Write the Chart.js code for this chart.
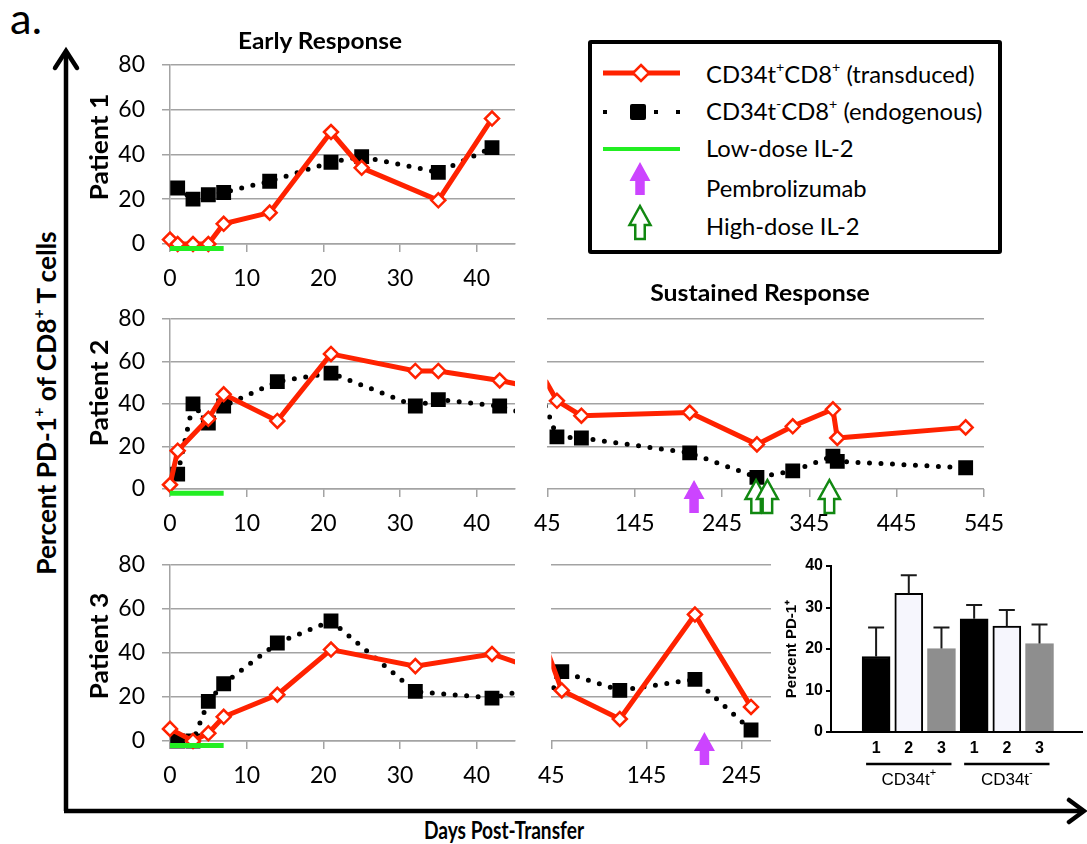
<!DOCTYPE html>
<html>
<head>
<meta charset="utf-8">
<script src="https://cdn.jsdelivr.net/npm/chart.js@4.4.1/dist/chart.umd.min.js"></script>
<style>
  body { margin: 0; background: #fff; }
  #fig { position: relative; width: 1087px; height: 844px; overflow: hidden; font-family: Lato, "Open Sans", sans-serif; color: #000; }
  canvas { position: absolute; }
  .lbl { position: absolute; white-space: nowrap; line-height: 1; }
  .bold { font-weight: bold; }
  .ctr { transform: translate(-50%, -50%); }
  .rot { transform: translate(-50%, -50%) rotate(-90deg); }
  sup { font-size: 0.6em; line-height: 0; position: relative; top: -0.15em; vertical-align: super; }
  #legend { position: absolute; left: 588px; top: 40px; width: 414px; height: 214px; border: 4px solid #000; border-radius: 3px; box-sizing: border-box; background: #fff; }
  .leg-text { position: absolute; left: 114px; font-size: 22px; line-height: 1; white-space: nowrap; transform: translateY(-50%); }
</style>
</head>
<body>
<div id="fig">
  <svg width="1087" height="844" style="position:absolute;left:0;top:0">
    <path d="M66 811 V52" stroke="#000" stroke-width="4.5" fill="none"/>
    <path d="M55 68 L66 51 L77 68" stroke="#000" stroke-width="4.5" fill="none" stroke-linecap="round"/>
    <path d="M64 811 H1081" stroke="#000" stroke-width="4.5" fill="none"/>
    <path d="M1069 800 L1084 811 L1069 822" stroke="#000" stroke-width="4.5" fill="none" stroke-linecap="round"/>
  </svg>

  <canvas id="p1e" width="423" height="260" style="left:100px;top:34px"></canvas>
  <canvas id="p2e" width="423" height="251" style="left:100px;top:288px"></canvas>
  <canvas id="p3e" width="423" height="257" style="left:100px;top:534px"></canvas>
  <canvas id="p2l" width="496" height="234" style="left:521px;top:305px"></canvas>
  <canvas id="p3l" width="271" height="240" style="left:525px;top:551px"></canvas>
  <canvas id="bars" width="317" height="240" style="left:770px;top:552px"></canvas>

  <div class="lbl ctr" id="tA" style="left:26px;top:18px;font-size:42px">a.</div>
  <div class="lbl ctr bold" id="tEarly" style="left:320px;top:41px">Early Response</div>
  <div class="lbl ctr bold" id="tLate" style="left:760px;top:293px">Sustained Response</div>
  <div class="lbl rot bold pat" style="left:98px;top:147px">Patient 1</div>
  <div class="lbl rot bold pat" style="left:98px;top:393px">Patient 2</div>
  <div class="lbl rot bold pat" style="left:98px;top:646px">Patient 3</div>
  <div class="lbl rot bold" id="tY" style="left:46px;top:403px">Percent PD-1<sup>+</sup> of CD8<sup>+</sup> T cells</div>
  <div class="lbl ctr bold" id="tX" style="left:504px;top:829px">Days Post-Transfer</div>

  <div id="legend">
    <svg width="406" height="206" style="position:absolute;left:0;top:0">
      <line x1="11" y1="29" x2="88" y2="29" stroke="#ff2200" stroke-width="5"/>
      <polygon points="49,21 57,29 49,37 41,29" fill="#fff" stroke="#ff2200" stroke-width="2.5"/>
      <rect x="11" y="66" width="4" height="4" fill="#000"/>
      <rect x="38" y="60" width="16" height="16" rx="2" fill="#000"/>
      <rect x="62" y="66" width="4" height="4" fill="#000"/>
      <rect x="84" y="66" width="4" height="4" fill="#000"/>
      <line x1="11" y1="105" x2="88" y2="105" stroke="#22ee22" stroke-width="4"/>
      <path d="M48 118 L58.5 137 L52.75 137 L52.75 151 L43.25 151 L43.25 137 L37.5 137 Z" fill="#cc44ff"/>
      <path d="M48 162 L58.5 181 L52.75 181 L52.75 195 L43.25 195 L43.25 181 L37.5 181 Z" fill="#fff" stroke="#118811" stroke-width="2.5"/>
    </svg>
    <div class="leg-text" id="leg0" style="top:31px">CD34t<sup>+</sup>CD8<sup>+</sup> (transduced)</div>
    <div class="leg-text" style="top:68px">CD34t<sup>-</sup>CD8<sup>+</sup> (endogenous)</div>
    <div class="leg-text" style="top:105px">Low-dose IL-2</div>
    <div class="leg-text" style="top:145px">Pembrolizumab</div>
    <div class="leg-text" style="top:183px">High-dose IL-2</div>
  </div>
</div>

<script>
// ---- tick labels ----
const earlyTicks = [0, 10, 20, 30, 40];
const p2LateTicks = [45, 145, 245, 345, 445, 545];
const p3LateTicks = [45, 145, 245];
const pctTicks = [0, 20, 40, 60, 80];

// low-dose IL-2 window (days), same for every patient
const il2Days = [0, 7];

// Patient 1
const p1TransDays = [0, 1, 3, 5, 7, 13, 21, 25, 35, 42];
const p1Trans = [2, 0, 0, 0, 9, 14, 50, 34, 19.5, 56];
const p1EndoDays = [1, 3, 5, 7, 13, 21, 25, 35, 42];
const p1Endo = [25, 20, 22, 23, 28, 36.5, 39, 32, 43];

// Patient 2
const p2TransDays = [0, 1, 5, 7, 14, 21, 32, 35, 43, 56, 84, 208, 285, 326, 372, 377, 524];
const p2Trans = [2, 18, 33, 44.5, 32, 63.5, 55.5, 55.5, 51, 41.5, 34.5, 36, 21, 29.5, 37.5, 24, 29];
const p2EndoDays = [1, 3, 5, 7, 14, 21, 32, 35, 43, 56, 84, 208, 285, 326, 372, 377, 524];
const p2Endo = [7, 40, 31, 39, 50.5, 54.5, 39, 42, 39, 24.5, 24, 17, 5.5, 8.5, 15.5, 13, 10];
const p2PembroDays = [213];
const p2HighDoseDays = [284, 297, 368];

// Patient 3
const p3TransDays = [0, 3, 5, 7, 14, 21, 32, 42, 56, 117, 196, 255];
const p3Trans = [5.5, 0, 3.5, 11, 21, 41.5, 34, 39.5, 23, 10, 57.5, 15.5];
const p3EndoDays = [1, 3, 5, 7, 14, 21, 32, 42, 56, 117, 196, 255];
const p3Endo = [0, 0, 18, 26, 44.5, 54.5, 22.5, 19.5, 31.5, 23, 28, 5];
const p3PembroDays = [206];

// inset bar chart
const barGroups = ['CD34t+', 'CD34t-'];
const barPatients = ['1', '2', '3', '1', '2', '3'];
const barMeans = [18.2, 33.4, 20.1, 27.3, 25.5, 21.3];
const barSem = [7.0, 4.4, 5.1, 3.3, 3.9, 4.6];
const barTicks = [0, 10, 20, 30, 40];

const FONT = 'Lato, "Open Sans", sans-serif';
const ARIAL = '"Liberation Sans", Arial, sans-serif';
const RED = '#ff2200';
const GRID = '#a3a3a3';

// size html labels from the cap height, then squeeze to the measured length
function fitBox(el, length, capH) {
  el.style.fontSize = (capH / 0.72).toFixed(2) + 'px';
  const k = length / el.offsetWidth;
  const rot = el.classList.contains('rot') ? ' rotate(-90deg)' : '';
  el.style.transform = 'translate(-50%, -50%)' + rot + ' scaleX(' + k.toFixed(3) + ')';
}
function fitWidth(el, target) {
  const base = parseFloat(getComputedStyle(el).fontSize);
  el.style.fontSize = (base * target / el.offsetWidth).toFixed(2) + 'px';
}
fitWidth(document.getElementById('tA'), 32);
fitBox(document.getElementById('tEarly'), 164, 16);
fitBox(document.getElementById('tLate'), 220, 16);
document.querySelectorAll('.pat').forEach(el => fitBox(el, 107, 18));
fitBox(document.getElementById('tY'), 343, 19);
fitBox(document.getElementById('tX'), 160, 18);
const leg0 = document.getElementById('leg0');
fitWidth(leg0, 269);
document.querySelectorAll('.leg-text').forEach(el => { el.style.fontSize = leg0.style.fontSize; });

function pts(days, vals) {
  return days.map((d, i) => ({ x: d, y: vals[i] }));
}

// hide markers that fall outside the panel's day range
function inView(c) {
  const s = c.chart.scales.x;
  return c.raw && c.raw.x >= s.min && c.raw.x <= s.max;
}

function seriesSets(transDays, trans, endoDays, endo, clip, withIl2) {
  const sets = [
    {
      data: pts(transDays, trans), borderColor: RED, borderWidth: 5,
      pointStyle: 'rectRot', pointRadius: c => inView(c) ? 7 : 0,
      pointBackgroundColor: '#fff', pointBorderColor: RED, pointBorderWidth: 2.5,
      order: 0, clip: clip
    },
    {
      data: pts(endoDays, endo), borderColor: '#000', borderWidth: 5,
      borderDash: [0, 11.5], borderCapStyle: 'round',
      pointStyle: 'rect', pointRadius: c => inView(c) ? 10.5 : 0,
      pointBackgroundColor: '#000', pointBorderWidth: 0,
      order: 1, clip: clip
    }
  ];
  if (withIl2) {
    sets.push({
      data: il2Days.map(d => ({ x: d, y: -2 })), borderColor: '#22ee22', borderWidth: 5,
      pointRadius: 0, clip: false, order: -1
    });
  }
  return sets;
}

function arrowPath(ctx, cx, ty) {
  const w = 10.5, h = 19, s = 4.75, H = 33;
  ctx.beginPath();
  ctx.moveTo(cx, ty);
  ctx.lineTo(cx + w, ty + h);
  ctx.lineTo(cx + s, ty + h);
  ctx.lineTo(cx + s, ty + H);
  ctx.lineTo(cx - s, ty + H);
  ctx.lineTo(cx - s, ty + h);
  ctx.lineTo(cx - w, ty + h);
  ctx.closePath();
}

// Pembrolizumab / high-dose IL-2 markers under the day axis
const doseArrows = {
  id: 'doseArrows',
  afterDraw(chart, args, opts) {
    const { ctx, scales: { x, y } } = chart;
    const top = y.getPixelForValue(0) - 9;
    ctx.save();
    (opts.pembro || []).forEach(d => {
      arrowPath(ctx, x.getPixelForValue(d), top);
      ctx.fillStyle = '#cc44ff';
      ctx.fill();
    });
    (opts.highDose || []).forEach(d => {
      arrowPath(ctx, x.getPixelForValue(d), top);
      ctx.fillStyle = '#fff';
      ctx.fill();
      ctx.lineWidth = 2.5;
      ctx.strokeStyle = '#118811';
      ctx.stroke();
    });
    ctx.restore();
  }
};

function baseOptions() {
  return {
    responsive: false, animation: false, events: [], devicePixelRatio: 1,
    plugins: { legend: { display: false }, tooltip: { enabled: false } }
  };
}

// chart top sits at half a label height + tick padding below the canvas top
function earlyChart(id, sets) {
  const opts = baseOptions();
  opts.layout = { padding: { top: 0, right: 8, left: 0, bottom: 0 } };
  opts.scales = {
    x: {
      type: 'linear', min: 0, max: 45,
      afterBuildTicks: s => { s.ticks = earlyTicks.map(v => ({ value: v })); },
      afterFit: s => { s.height = 50; },
      grid: { drawOnChartArea: false, tickLength: 8, color: GRID, lineWidth: 1.5 },
      border: { display: true, color: GRID, width: 1.5 },
      ticks: { font: { family: FONT, size: 23 }, color: '#000', padding: 13, maxRotation: 0 }
    },
    y: {
      min: 0, max: 80,
      afterBuildTicks: s => { s.ticks = pctTicks.map(v => ({ value: v })); },
      afterFit: s => { s.width = 70; },
      grid: { tickLength: 8, color: GRID, lineWidth: 1.5 },
      border: { display: true, color: GRID, width: 1.5 },
      ticks: { font: { family: FONT, size: 23 }, color: '#000', padding: 17 }
    }
  };
  return new Chart(document.getElementById(id), { type: 'line', data: { datasets: sets }, options: opts });
}

function lateChart(id, sets, maxDay, ticks, arrows) {
  const opts = baseOptions();
  opts.layout = { padding: { top: 14, right: 25, left: 20, bottom: 0 } };
  opts.plugins.doseArrows = arrows;
  opts.scales = {
    x: {
      type: 'linear', min: 45, max: maxDay,
      afterBuildTicks: s => { s.ticks = ticks.map(v => ({ value: v })); },
      afterFit: s => { s.height = 50; },
      grid: { drawOnChartArea: false, tickLength: 8, color: GRID, lineWidth: 1.5 },
      border: { display: false },
      ticks: { font: { family: FONT, size: 23 }, color: '#000', padding: 13, maxRotation: 0 }
    },
    y: {
      min: 0, max: 80,
      afterBuildTicks: s => { s.ticks = pctTicks.map(v => ({ value: v })); },
      afterFit: s => { s.width = 0; },
      grid: { drawTicks: false, color: GRID, lineWidth: 1.5 },
      border: { display: false },
      ticks: { display: false }
    }
  };
  return new Chart(document.getElementById(id), {
    type: 'line', data: { datasets: sets }, options: opts, plugins: [doseArrows]
  });
}

const clipEarly = { left: 12, top: 12, right: 0, bottom: 12 };
const clipLate = { left: 0, top: 12, right: 12, bottom: 12 };

earlyChart('p1e', seriesSets(p1TransDays, p1Trans, p1EndoDays, p1Endo, clipEarly, true));
earlyChart('p2e', seriesSets(p2TransDays, p2Trans, p2EndoDays, p2Endo, clipEarly, true));
earlyChart('p3e', seriesSets(p3TransDays, p3Trans, p3EndoDays, p3Endo, clipEarly, true));
lateChart('p2l', seriesSets(p2TransDays, p2Trans, p2EndoDays, p2Endo, clipLate, false), 545, p2LateTicks,
  { pembro: p2PembroDays, highDose: p2HighDoseDays });
lateChart('p3l', seriesSets(p3TransDays, p3Trans, p3EndoDays, p3Endo, clipLate, false), 276, p3LateTicks,
  { pembro: p3PembroDays, highDose: [] });

// error bars plus the CD34t+/- group brackets of the inset
const errorBars = {
  id: 'errorBars',
  afterDatasetsDraw(chart) {
    const { ctx, scales: { x, y } } = chart;
    ctx.save();
    ctx.strokeStyle = '#1a1a1a';
    ctx.lineWidth = 2;
    barMeans.forEach((m, i) => {
      const px = x.getPixelForValue(i + 1);
      const y0 = y.getPixelForValue(m);
      const y1 = y.getPixelForValue(m + barSem[i]);
      ctx.beginPath();
      ctx.moveTo(px, y0); ctx.lineTo(px, y1);
      ctx.moveTo(px - 8, y1); ctx.lineTo(px + 8, y1);
      ctx.stroke();
    });
    const base = y.getPixelForValue(0);
    ctx.lineWidth = 2.5;
    ctx.strokeStyle = '#000';
    ctx.fillStyle = '#000';
    barGroups.forEach((g, k) => {
      const a = x.getPixelForValue(k * 3 + 1) - 10;
      const b = x.getPixelForValue(k * 3 + 3) + 10;
      ctx.beginPath();
      ctx.moveTo(a, base + 32); ctx.lineTo(b, base + 32);
      ctx.stroke();
      const main = g.slice(0, -1), sign = g.slice(-1);
      ctx.font = '17px ' + ARIAL;
      const w1 = ctx.measureText(main).width;
      ctx.font = '11px ' + ARIAL;
      const w2 = ctx.measureText(sign).width;
      const cx = x.getPixelForValue(k * 3 + 2);
      const left = cx - (w1 + w2) / 2;
      ctx.textBaseline = 'middle';
      ctx.textAlign = 'left';
      ctx.font = '17px ' + ARIAL;
      ctx.fillText(main, left, base + 48);
      ctx.font = '11px ' + ARIAL;
      ctx.fillText(sign, left + w1, base + 41);
    });
    ctx.restore();
  }
};

const barOpts = baseOptions();
barOpts.layout = { padding: { top: 14, right: 5, left: 0, bottom: 30 } };
barOpts.scales = {
  x: {
    type: 'linear', min: 0.26, max: 6.66,
    afterBuildTicks: s => { s.ticks = barPatients.map((_, i) => ({ value: i + 1 })); },
    afterFit: s => { s.height = 30; },
    grid: { display: false, drawTicks: false },
    border: { display: true, color: '#000', width: 2 },
    ticks: {
      callback: v => barPatients[v - 1], autoSkip: false, maxRotation: 0,
      font: { family: ARIAL, size: 16, weight: 'bold' }, color: '#000', padding: 7
    }
  },
  y: {
    min: 0, max: 40,
    afterBuildTicks: s => { s.ticks = barTicks.map(v => ({ value: v })); },
    afterFit: s => { s.width = 61; },
    grid: { drawOnChartArea: false, tickLength: 5, color: '#000', lineWidth: 2 },
    border: { display: true, color: '#000', width: 2 },
    title: {
      display: true, text: 'Percent PD-1\u207A', color: '#000',
      font: { family: ARIAL, size: 15, weight: 'bold' }, padding: { top: 13, bottom: 0 }
    },
    ticks: { font: { family: ARIAL, size: 16, weight: 'bold' }, color: '#000', padding: 3 }
  }
};

new Chart(document.getElementById('bars'), {
  type: 'bar',
  data: {
    datasets: [{
      data: barMeans.map((v, i) => ({ x: i + 1, y: v })),
      backgroundColor: ['#000', '#f6f6fd', '#8e8e8e', '#000', '#f6f6fd', '#8e8e8e'],
      borderColor: ['#000', '#000', '#8e8e8e', '#000', '#000', '#8e8e8e'],
      borderWidth: 2,
      barThickness: 28
    }]
  },
  options: barOpts,
  plugins: [errorBars]
});
</script>
</body>
</html>
